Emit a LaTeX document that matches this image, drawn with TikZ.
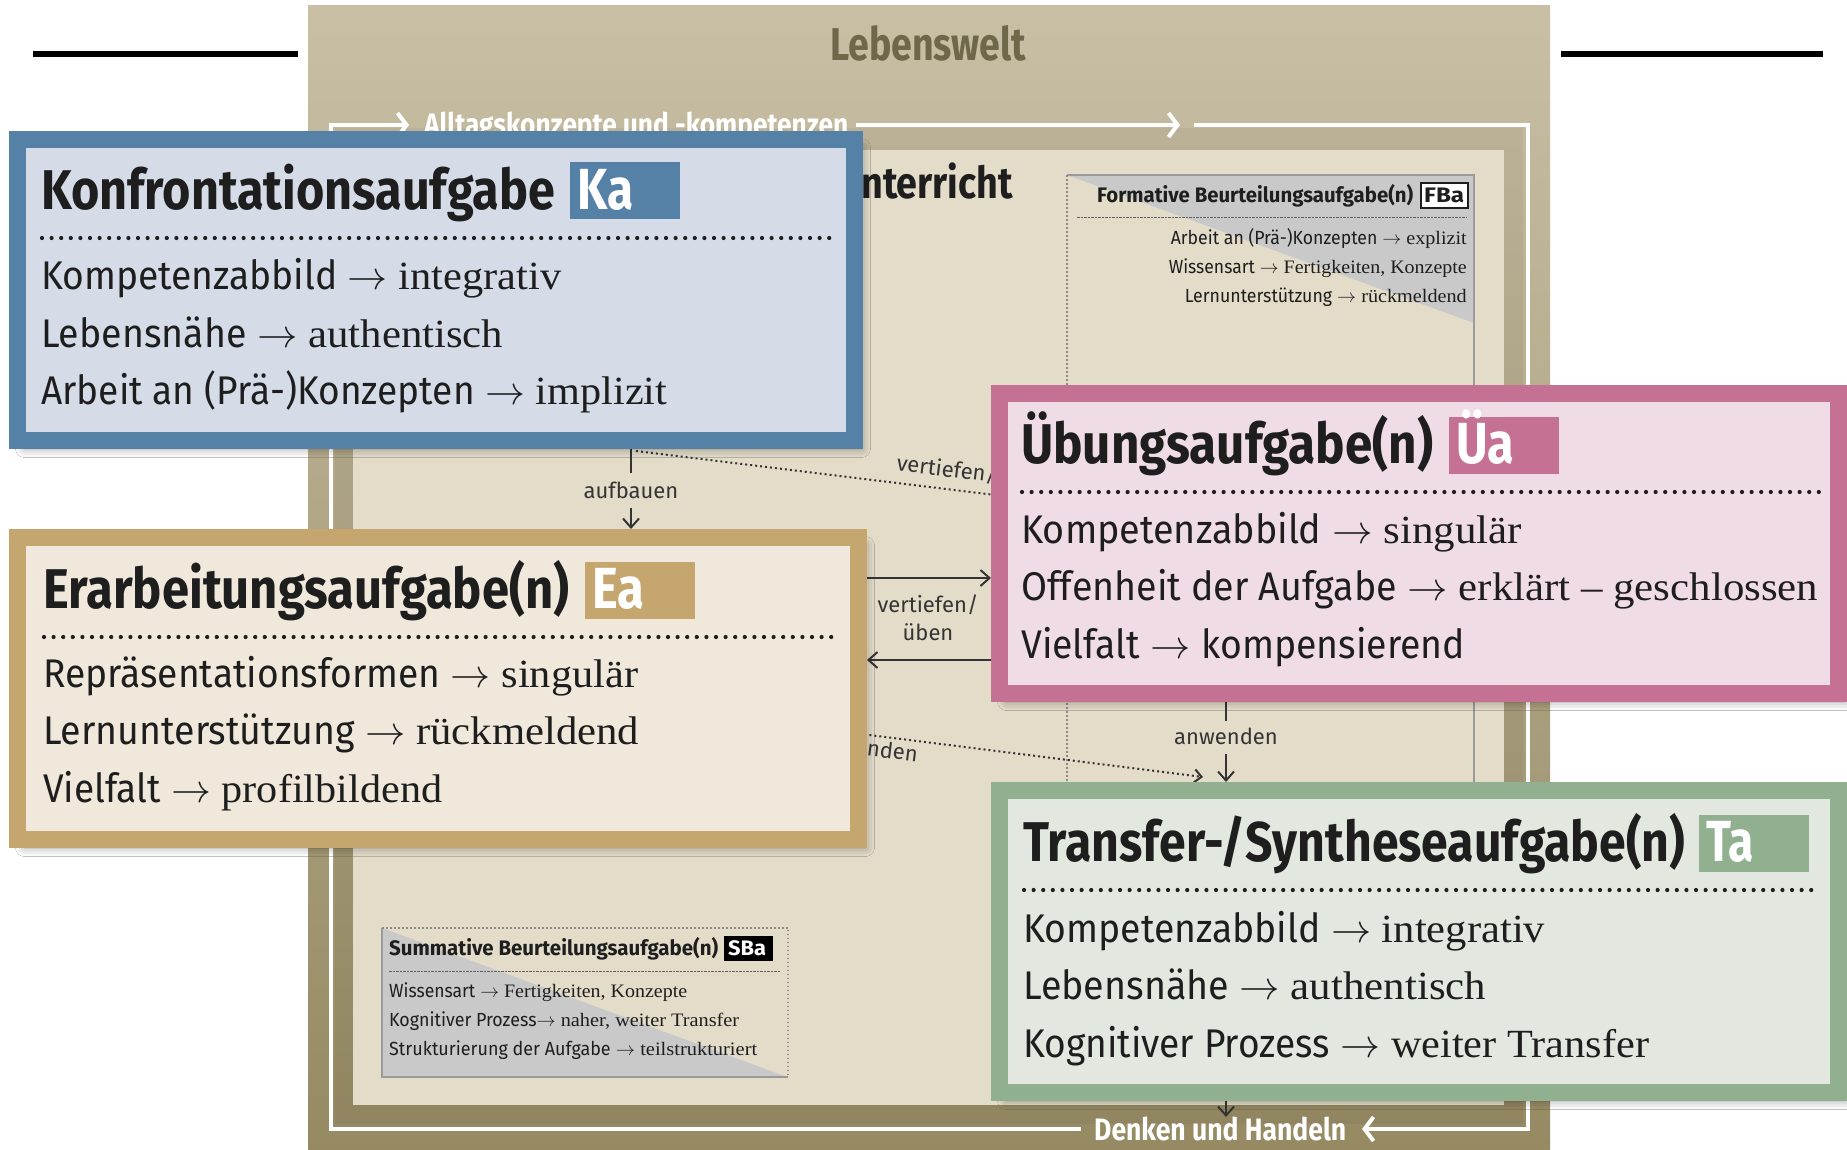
\RequirePackage{fix-cm}
\documentclass[tikz,border=0pt]{standalone}
\usepackage{fontspec}
\usepackage{graphicx}
\usetikzlibrary{arrows.meta,shadows.blur}
\newfontfamily\fsans{Fira Sans}
\newfontfamily\fsansn{Fira Sans}[FakeStretch=0.93]
\newfontfamily\fserif{Liberation Serif}[FakeStretch=1.06]
\newcommand\fitx[2]{\resizebox{#1pt}{\height}{#2}}
\newcommand\kl[3]{\fitx{#1}{{\fsansn #2}\ {\ensuremath{\rightarrow}}\ #3}}
\pgfdeclarelayer{bg}
\pgfdeclarelayer{conn}
\pgfsetlayers{bg,conn,main}
\definecolor{lwtop}{HTML}{C8BFA5}
\definecolor{lwbot}{HTML}{968A63}
\definecolor{lwtext}{HTML}{6E6748}
\definecolor{cream}{HTML}{E3DCC9}
\definecolor{kab}{HTML}{5581A7}
\definecolor{kaf}{HTML}{D5DCE8}
\definecolor{eab}{HTML}{C6A66F}
\definecolor{eaf}{HTML}{F0E9DB}
\definecolor{uab}{HTML}{C57193}
\definecolor{uaf}{HTML}{F0DCE7}
\definecolor{tab}{HTML}{90B08F}
\definecolor{taf}{HTML}{E2E8E0}
\definecolor{grayt}{HTML}{C9C9C9}
\definecolor{grayl}{HTML}{9A9A9A}
\definecolor{grayd}{HTML}{8A8A8A}
\definecolor{ink}{HTML}{1E1E1E}
\definecolor{connc}{HTML}{343434}
\begin{document}
\begin{tikzpicture}[x=1pt,y=-1pt,
  bigbox/.style={anchor=north west, inner sep=0pt, line width=17pt,
    blur shadow={shadow xshift=7pt,shadow yshift=-8pt,shadow blur radius=9pt,shadow opacity=40}},
  tagbox/.style={anchor=north west, inner sep=0pt, minimum width=110pt, minimum height=57pt},
  titletext/.style={anchor=base west, inner sep=0pt, text=ink, font=\fsans\bfseries\fontsize{56}{60}\selectfont},
  tagtext/.style={anchor=base west, inner sep=0pt, text=white, font=\fsans\bfseries\fontsize{58}{60}\selectfont},
  itemtext/.style={anchor=base west, inner sep=0pt, text=ink, font=\fsans\fontsize{40}{44}\selectfont},
  dotsep/.style={draw=ink, line width=4.2pt, line cap=round, dash pattern=on 0pt off 9.6pt},
  smalltitle/.style={anchor=base west, inner sep=0pt, text=ink, font=\fsans\bfseries\fontsize{21}{24}\selectfont},
  smalltext/.style={inner sep=0pt, text=ink, font=\fsans\fontsize{19}{22}\selectfont},
  sepdash/.style={draw=grayd!70!black, line width=1pt, dash pattern=on 2.5pt off 1pt},
  graydots/.style={draw=grayd, line width=2pt, dash pattern=on 1.5pt off 2.5pt},
  wline/.style={draw=white, line width=4pt, line join=miter},
  wtip/.style={-{Straight Barb[length=9pt,width=24pt]}},
  wtext/.style={inner sep=0pt, anchor=base west, text=white, font=\fsans\bfseries\fontsize{31}{33}\selectfont},
  conn/.style={draw=connc, line width=2pt},
  ctip/.style={-{Straight Barb[length=9pt,width=16pt]}},
  dconn/.style={draw=connc, line width=2pt, dash pattern=on 2pt off 3pt},
  clabel/.style={inner sep=0pt, text=connc, font=\fsans\fontsize{22}{24}\selectfont},
]
\useasboundingbox (0,0) rectangle (1847,1149);

% ---------------- boxes (main layer) ----------------
\node (ka) [bigbox, draw=kab, fill=kaf, minimum width=837pt, minimum height=301pt] at (9,131) {};
\node (ea) [bigbox, draw=eab, fill=eaf, minimum width=841pt, minimum height=302pt] at (9,529) {};
\node (ua) [bigbox, draw=uab, fill=uaf, minimum width=839pt, minimum height=300pt] at (991,385) {};
\node (ta) [bigbox, draw=tab, fill=taf, minimum width=839pt, minimum height=302pt] at (991,782) {};

% tags
\node (katag) [tagbox, fill=kab] at (570,162) {};
\node (eatag) [tagbox, fill=eab] at (585,562) {};
\node (uatag) [tagbox, fill=uab] at (1449,417) {};
\node (tatag) [tagbox, fill=tab] at (1699,815) {};
\node (katagt) [tagtext] at (577,209) {\fitx{56}{Ka}};
\node (eatagt) [tagtext] at (592,608) {\fitx{52}{Ea}};
\node (uatagt) [tagtext] at (1456,463) {\fitx{58}{Üa}};
\node (tatagt) [tagtext] at (1706,861) {\fitx{48}{Ta}};

% titles
\node (katitle) [titletext] at (41,209) {\fitx{514}{Konfrontationsaufgabe}};
\node (eatitle) [titletext] at (43,608) {\fitx{526}{Erarbeitungsaufgabe(n)}};
\node (uatitle) [titletext] at (1021,463) {\fitx{412}{Übungsaufgabe(n)}};
\node (tatitle) [titletext] at (1023,861) {\fitx{662}{Transfer-/Syntheseaufgabe(n)}};

% dotted separators
\draw[dotsep] (42,238) -- (833,238);
\draw[dotsep] (44,637) -- (838,637);
\draw[dotsep] (1022,492) -- (1820,492);
\draw[dotsep] (1024,890) -- (1818,890);

% items
\node (ka1) [itemtext] at (41,289) {\kl{520}{Kompetenzabbild}{\fserif integrativ}};
\node (ka2) [itemtext] at (41,347) {\kl{462}{Lebensnähe}{\fserif authentisch}};
\node (ka3) [itemtext] at (41,404) {\kl{626}{Arbeit an (Prä-)Konzepten}{\fserif implizit}};
\node (ea1) [itemtext] at (43,687) {\kl{595}{Repräsentationsformen}{\fserif singulär}};
\node (ea2) [itemtext] at (43,744) {\kl{596}{Lernunterstützung}{\fserif rückmeldend}};
\node (ea3) [itemtext] at (43,802) {\kl{399}{Vielfalt}{\fserif profilbildend}};
\node (ua1) [itemtext] at (1021,543) {\kl{501}{Kompetenzabbild}{\fserif singulär}};
\node (ua2) [itemtext] at (1021,600) {\kl{797}{Offenheit der Aufgabe}{\fserif erklärt – geschlossen}};
\node (ua3) [itemtext] at (1021,658) {\kl{444}{Vielfalt}{\fsansn kompensierend}};
\node (ta1) [itemtext] at (1023,942) {\kl{522}{Kompetenzabbild}{\fserif integrativ}};
\node (ta2) [itemtext] at (1023,999) {\kl{463}{Lebensnähe}{\fserif authentisch}};
\node (ta3) [itemtext] at (1023,1057) {\kl{626}{Kognitiver Prozess}{\fserif weiter Transfer}};

% ---------------- background ----------------
\begin{pgfonlayer}{bg}
\fill[white] (0,0) rectangle (1847,1149);
\draw[line width=5.5pt] (33,54) -- (298,54);
\draw[line width=5.5pt] (1561,54) -- (1823,54);
\node (lw) [anchor=north west, inner sep=0pt, minimum width=1242pt, minimum height=1146pt, top color=lwtop, bottom color=lwbot] at (308,5) {};
\node (lwlabel) [anchor=base, inner sep=0pt, text=lwtext, font=\fsans\bfseries\fontsize{46}{48}\selectfont] at (928,60) {\fitx{196}{Lebenswelt}};

% Unterricht frame
\fill[black, opacity=0.04] (335,128) rectangle (1523,1124);
\node (unt) [anchor=north west, inner sep=0pt, minimum width=1151pt, minimum height=955pt, fill=cream] at (353,150) {};
\node (untl) [anchor=base east, inner sep=0pt, text=ink, font=\fsans\bfseries\fontsize{44}{46}\selectfont] at (1013,198) {\fitx{176}{Unterricht}};

% white frame with arrows
\coordinate (fTL) at (331,125);
\coordinate (fTR) at (1528,125);
\coordinate (fBR) at (1528,1129);
\coordinate (fBL) at (331,1129);
\draw[wline, wtip] (1081,1129) -- (fBL) -- (fTL) -- (409,125);
\node (alltag) [wtext] at (424,135) {\fitx{424}{Alltagskonzepte und -kompetenzen}};
\draw[wline, wtip] (856,125) -- (1180,125);
\draw[wline, wtip] (1194,125) -- (fTR) -- (fBR) -- (1362,1129);
\node (denken) [wtext] at (1094,1140) {\fitx{252}{Denken und Handeln}};

% Formative box
\node (fba) [anchor=north west, inner sep=0pt, minimum width=407pt, minimum height=920pt] at (1067,175) {};
\fill[grayt] (fba.north west) -- (fba.north east) -- (1474,323) -- cycle;
\draw[grayl, line width=2pt] (fba.north west) -- (fba.north east) -- (fba.south east);
\draw[graydots] (fba.north west) -- (fba.south west);
\node (fbatitle) [smalltitle] at (1097,202) {\fitx{316}{Formative Beurteilungsaufgabe(n)}};
\node (fbatag) [anchor=north west, inner sep=0pt, draw=ink, line width=1.5pt, fill=white, minimum width=47pt, minimum height=25pt] at (1420,182) {};
\node (fbatagt) [smalltitle] at (1424,202) {\fitx{40}{FBa}};
\draw[sepdash] (1077,217) -- (1467,217);
\node (fb1) [smalltext, anchor=base east] at (1467,244) {\kl{296}{Arbeit an (Prä-)Konzepten}{\fserif explizit}};
\node (fb2) [smalltext, anchor=base east] at (1467,273) {\kl{298}{Wissensart}{\fserif Fertigkeiten, Konzepte}};
\node (fb3) [smalltext, anchor=base east] at (1467,302) {\kl{282}{Lernunterstützung}{\fserif rückmeldend}};

% Summative box
\node (sba) [anchor=north west, inner sep=0pt, minimum width=406pt, minimum height=149pt] at (382,928) {};
\fill[grayt] (sba.north west) -- (sba.south west) -- (sba.south east) -- cycle;
\draw[grayl, line width=2pt] (sba.north west) -- (sba.south west) -- (sba.south east);
\draw[graydots] (sba.north west) -- (sba.north east) -- (sba.south east);
\node (sbatitle) [smalltitle] at (389,955) {\fitx{329}{Summative Beurteilungsaufgabe(n)}};
\node (sbatag) [anchor=north west, inner sep=0pt, fill=black, minimum width=49pt, minimum height=25pt] at (724,936) {};
\node (sbatagt) [smalltitle, text=white] at (728,955) {\fitx{38}{SBa}};
\draw[sepdash] (389,971) -- (780,971);
\node (sb1) [smalltext, anchor=base west] at (389,997) {\kl{298}{Wissensart}{\fserif Fertigkeiten, Konzepte}};
\node (sb2) [smalltext, anchor=base west] at (389,1026) {\fitx{350}{{\fsansn Kognitiver Prozess}{\ensuremath{\rightarrow}}\ {\fserif naher, weiter Transfer}}};
\node (sb3) [smalltext, anchor=base west] at (389,1055) {\kl{368}{Strukturierung der Aufgabe}{\fserif teilstrukturiert}};
\end{pgfonlayer}

% ---------------- connectors ----------------
\begin{pgfonlayer}{conn}
\coordinate (aufx) at (631,0);
\coordinate (aufa) at (631,473);
\coordinate (aufb) at (631,508);
\draw[conn] (ka.south -| aufx) -- (aufa);
\node (aufl) [clabel, anchor=base] at (631,498) {aufbauen};
\draw[conn, ctip] (aufb) -- (ea.north -| aufx);

\coordinate (v1s) at (636,451);
\coordinate (v1e) at (995,495);
\draw[dconn] (v1s) -- (v1e);
\node (v1l) [clabel, rotate=-7] at (947,469) {vertiefen/};

\coordinate (y578) at (0,578);
\coordinate (y660) at (0,660);
\draw[conn, ctip] (ea.east |- y578) -- (ua.west |- y578);
\draw[conn, ctip] (ua.west |- y660) -- (ea.east |- y660);
\node (v2l) [clabel, anchor=base] at (928,612) {vertiefen/};
\node (v3l) [clabel, anchor=base] at (928,640) {üben};

\coordinate (a1s) at (790,725);
\coordinate (a1e) at (1203,777);
\draw[dconn, -{Straight Barb[length=7pt,width=13pt]}] (a1s) -- (a1e);
\node (a1l) [clabel, rotate=-7, anchor=base east] at (917,762) {anwenden};

\coordinate (anx) at (1226,0);
\coordinate (ana) at (1226,721);
\coordinate (anb) at (1226,754);
\draw[conn] (ua.south -| anx) -- (ana);
\node (a2l) [clabel, anchor=base] at (1226,744) {anwenden};
\draw[conn, ctip] (anb) -- (ta.north -| anx);

\coordinate (dh) at (1226,1117);
\draw[conn, ctip] (ta.south -| anx) -- (dh);
\end{pgfonlayer}
\end{tikzpicture}
\end{document}
